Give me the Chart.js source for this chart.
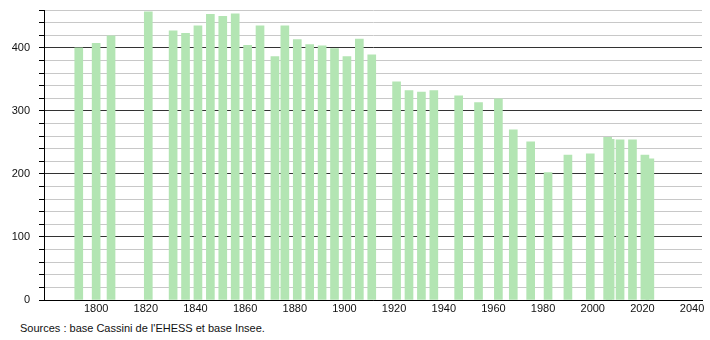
<!DOCTYPE html>
<html>
<head>
<meta charset="utf-8">
<script src="https://cdn.jsdelivr.net/npm/chart.js@4"></script>
<style>
  body { margin: 0; background: #fff; }
  #wrap { position: relative; width: 710px; height: 318px; }
  #source { font-family: "Liberation Sans", Arial, sans-serif; font-size: 11px; color: #111; padding-left: 20px; margin-top: 4px; }
</style>
</head>
<body>
<div id="wrap"><canvas id="popChart"></canvas></div>
<div id="source">Sources : base Cassini de l'EHESS et base Insee.</div>
<script>
// annees des recensements
const years = [1793, 1800, 1806, 1821, 1831, 1836, 1841, 1846, 1851, 1856, 1861, 1866,
  1872, 1876, 1881, 1886, 1891, 1896, 1901, 1906, 1911, 1921, 1926, 1931, 1936, 1946,
  1954, 1962, 1968, 1975, 1982, 1990, 1999, 2006, 2007, 2011, 2016, 2021, 2023];
// population
const population = [400, 407, 419, 457, 427, 423, 435, 453, 450, 454, 404, 435,
  386, 435, 413, 405, 403, 399, 386, 414, 389, 346, 332, 330, 332, 324,
  313, 319, 270, 251, 202, 230, 232, 258, 255, 254, 254, 230, 224];
const yLabels = [0, 100, 200, 300, 400];
const xLabels = [1800, 1820, 1840, 1860, 1880, 1900, 1920, 1940, 1960, 1980, 2000, 2020, 2040];

const points = years.map((y, i) => ({ x: y, y: population[i] }));
const font = { family: "'Liberation Sans', Arial, sans-serif", size: 11 };

new Chart(document.getElementById('popChart'), {
  type: 'bar',
  data: {
    datasets: [{
      data: points,
      backgroundColor: '#b3e5b3',
      barThickness: 8,
      borderWidth: 0
    }]
  },
  options: {
    responsive: true,
    maintainAspectRatio: false,
    animation: false,
    layout: { padding: { top: 10, right: 8, left: 0, bottom: 0 } },
    plugins: { legend: { display: false }, tooltip: { enabled: false } },
    scales: {
      x: {
        type: 'linear',
        offset: false,
        min: 1779,
        max: 2044,
        afterFit: s => { s.height = 18; s.paddingLeft = 0; s.paddingRight = 0; },
        grid: { display: false, offset: false, drawTicks: false },
        border: { color: '#000', width: 1 },
        ticks: {
          stepSize: 20,
          includeBounds: false,
          autoSkip: false,
          maxRotation: 0,
          padding: 2,
          color: '#111',
          font: font,
          callback: v => xLabels.includes(v) ? String(v) : ''
        }
      },
      y: {
        min: 0,
        max: 460,
        afterFit: s => { s.width = 44; s.paddingTop = 0; },
        border: { color: '#000', width: 1 },
        grid: {
          color: ctx => (ctx.tick && ctx.tick.value % 100 === 0) ? '#333' : '#c8c8c8',
          tickColor: '#000',
          tickLength: 5,
          drawTicks: true
        },
        ticks: {
          stepSize: 20,
          autoSkip: false,
          padding: 9,
          color: '#111',
          font: font,
          callback: v => yLabels.includes(v) ? String(v) : ''
        }
      }
    }
  }
});
</script>
</body>
</html>
